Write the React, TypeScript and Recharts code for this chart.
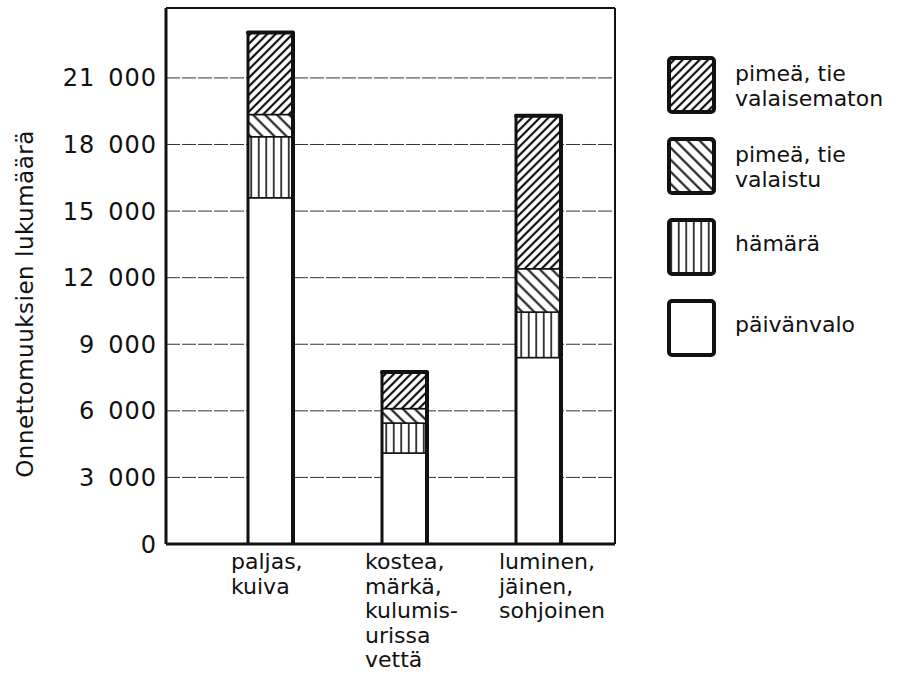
import React from "react";
import { Bar, BarChart, CartesianGrid, ReferenceLine, XAxis, YAxis } from "recharts";

const font = "'DejaVu Sans', sans-serif";
const ink = "#111";

// road surface categories (line breaks as in the print)
const surfaces = [
  "paljas,\nkuiva",
  "kostea,\nmärkä,\nkulumis-\nurissa\nvettä",
  "luminen,\njäinen,\nsohjoinen",
];

// accidents per lighting condition, bottom to top of each stack
const paivanvalo = [15600, 4100, 8400];
const hamara = [2750, 1350, 2050];
const valaistu = [1000, 650, 1950];
const valaisematon = [3700, 1650, 6900];

const yTicks = [0, 3000, 6000, 9000, 12000, 15000, 18000, 21000];
const yTickLabels = ["0", "3\u2002000", "6\u2002000", "9\u2002000", "12\u2002000", "15\u2002000", "18\u2002000", "21\u2002000"];
const yTitle = "Onnettomuuksien lukumäärä";

const series = [
  { key: "paivanvalo", label: "päivänvalo", fill: "#fff" },
  { key: "hamara", label: "hämärä", fill: "url(#pat-hamara)" },
  { key: "valaistu", label: "pimeä, tie\nvalaistu", fill: "url(#pat-valaistu)" },
  { key: "valaisematon", label: "pimeä, tie\nvalaisematon", fill: "url(#pat-valaisematon)" },
];

const data = surfaces.map((name, i) => ({
  name,
  paivanvalo: paivanvalo[i],
  hamara: hamara[i],
  valaistu: valaistu[i],
  valaisematon: valaisematon[i],
}));

function Patterns() {
  return (
    <defs>
      <pattern id="pat-valaisematon" width="6" height="6" patternUnits="userSpaceOnUse" patternTransform="rotate(45)">
        <rect width="6" height="6" fill="#fff" />
        <line x1="3" y1="0" x2="3" y2="6" stroke={ink} strokeWidth="2.2" />
      </pattern>
      <pattern id="pat-valaistu" width="8.5" height="8.5" patternUnits="userSpaceOnUse" patternTransform="rotate(-45)">
        <rect width="8.5" height="8.5" fill="#fff" />
        <line x1="4.25" y1="0" x2="4.25" y2="8.5" stroke={ink} strokeWidth="2" />
      </pattern>
      <pattern id="pat-hamara" width="7.5" height="7.5" patternUnits="userSpaceOnUse">
        <rect width="7.5" height="7.5" fill="#fff" />
        <line x1="3.75" y1="0" x2="3.75" y2="7.5" stroke={ink} strokeWidth="1.6" />
      </pattern>
    </defs>
  );
}

const segment = (top: boolean) => (p: any) => {
  const { x, y, width, height, fill } = p;
  if (!height) return <g />;
  return (
    <g>
      <rect x={x} y={y} width={width} height={height} fill={fill} stroke={ink} strokeWidth={1.5} />
      <line x1={x} x2={x} y1={y} y2={y + height} stroke={ink} strokeWidth={3} />
      <line x1={x + width} x2={x + width} y1={y} y2={y + height} stroke={ink} strokeWidth={4} />
      {top && <line x1={x} x2={x + width} y1={y} y2={y} stroke={ink} strokeWidth={4} strokeLinecap="round" />}
    </g>
  );
};

function SurfaceTick(props: any) {
  const { x, payload } = props;
  const lines = String(payload.value).split("\n");
  return (
    <text x={x - 39} y={569} fill={ink} fontSize={22} fontFamily={font} textAnchor="start">
      {lines.map((l, i) => (
        <tspan key={i} x={x - 39} y={569 + i * 24.5}>
          {l}
        </tspan>
      ))}
    </text>
  );
}

function LegendOverlay() {
  const items = [...series].reverse();
  return (
    <svg width={902} height={676} style={{ position: "absolute", left: 0, top: 0, pointerEvents: "none" }}>
      <g transform="translate(33, 304) rotate(-90)">
        <text x={0} y={0} textAnchor="middle" fontSize={23} letterSpacing={0.5} fontFamily={font} fill={ink}>
          {yTitle}
        </text>
      </g>
      {items.map((s, i) => {
        const top = 58 + i * 81;
        const lines = s.label.split("\n");
        const base = lines.length > 1 ? top + 23 : top + 31;
        return (
          <g key={s.key}>
            <rect x={669} y={top} width={45} height={54} rx={3} fill={s.fill} stroke={ink} strokeWidth={4} />
            <text fontSize={22} fontFamily={font} fill={ink}>
              {lines.map((l, j) => (
                <tspan key={j} x={735} y={base + j * 25}>
                  {l}
                </tspan>
              ))}
            </text>
          </g>
        );
      })}
    </svg>
  );
}

export default function App() {
  return (
    <div style={{ position: "absolute", left: 0, top: 0, width: 902, height: 676, background: "#fff" }}>
      <BarChart
        width={902}
        height={676}
        data={data}
        margin={{ top: 8, right: 286, bottom: 0, left: 0 }}
        barSize={45}
      >
        <Patterns />
        <CartesianGrid vertical={false} stroke="#333" strokeDasharray="14 2" />
        <XAxis
          dataKey="name"
          height={132}
          padding={{ left: 37, right: 10 }}
          axisLine={{ stroke: ink, strokeWidth: 3 }}
          tickLine={false}
          tick={<SurfaceTick />}
          interval={0}
        />
        <YAxis
          width={166}
          domain={[0, 24150]}
          ticks={yTicks}
          tickFormatter={(v: number) => yTickLabels[yTicks.indexOf(v)]}
          axisLine={{ stroke: ink, strokeWidth: 3 }}
          tickLine={false}
          tickSize={6}
          tickMargin={3}
          tick={{ fill: ink, fontSize: 24, fontFamily: font, letterSpacing: 1 }}
        />
        <YAxis
          yAxisId="right"
          orientation="right"
          width={1}
          domain={[0, 24150]}
          tick={false}
          tickLine={false}
          axisLine={{ stroke: ink, strokeWidth: 2 }}
        />
        <ReferenceLine y={24150} stroke={ink} strokeWidth={2} />
        {series.map((s, i) => (
          <Bar
            key={s.key}
            dataKey={s.key}
            stackId="a"
            fill={s.fill}
            isAnimationActive={false}
            shape={segment(i === series.length - 1)}
          />
        ))}
      </BarChart>
      <LegendOverlay />
    </div>
  );
}
